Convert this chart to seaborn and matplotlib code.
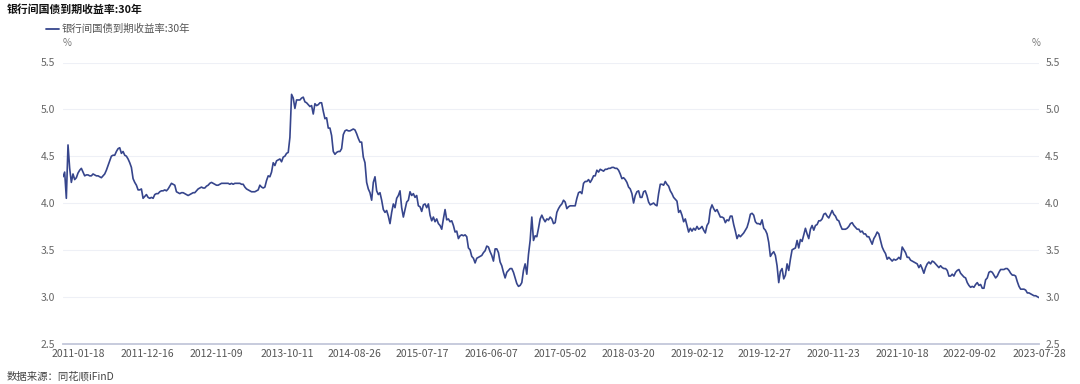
import numpy as np
import pandas as pd
import matplotlib
matplotlib.use("Agg")
import matplotlib.pyplot as plt
import matplotlib.dates as mdates
import seaborn as sns

title = "银行间国债到期收益率:30年"
series_name = "银行间国债到期收益率:30年"
source = "数据来源：同花顺iFinD"
unit = "%"

start_date = "2010-11-08"
end_date = "2023-07-28"

seg1 = [4.28, 4.33, 4.05, 4.62, 4.37, 4.22, 4.31, 4.25, 4.27, 4.32,
        4.35, 4.37, 4.33, 4.29, 4.30, 4.30, 4.29, 4.29, 4.31, 4.30,
        4.29, 4.29, 4.28, 4.27, 4.29, 4.31, 4.35, 4.40, 4.45, 4.50,
        4.51, 4.51, 4.55, 4.58, 4.59, 4.53, 4.55, 4.51, 4.50, 4.47,
        4.43, 4.38, 4.26, 4.22, 4.19, 4.14, 4.14, 4.15, 4.05, 4.07,
        4.09, 4.06, 4.05, 4.06, 4.05, 4.09, 4.10, 4.10, 4.12, 4.13,
        4.13, 4.14, 4.13, 4.15, 4.18, 4.21, 4.20, 4.19, 4.12, 4.11,
        4.10, 4.11, 4.11, 4.10, 4.09, 4.08, 4.09, 4.10, 4.11, 4.11,
        4.13, 4.15, 4.16, 4.17, 4.16, 4.16, 4.18, 4.19, 4.21, 4.22,
        4.21, 4.20, 4.19, 4.19, 4.20, 4.21, 4.21, 4.21]
seg2 = [4.21, 4.21, 4.20, 4.21, 4.20, 4.21, 4.21, 4.21, 4.21, 4.20,
        4.20, 4.17, 4.15, 4.14, 4.13, 4.12, 4.12, 4.12, 4.13, 4.14,
        4.19, 4.17, 4.16, 4.17, 4.24, 4.29, 4.28, 4.33, 4.43, 4.40,
        4.45, 4.46, 4.47, 4.44, 4.49, 4.50, 4.53, 4.54, 4.70, 5.16,
        5.12, 5.01, 5.10, 5.10, 5.10, 5.12, 5.13, 5.08, 5.07, 5.05,
        5.03, 5.04, 4.95, 5.06, 5.04, 5.05, 5.07, 5.07, 4.98, 4.90,
        4.91, 4.80, 4.80, 4.72, 4.55, 4.52, 4.54, 4.55, 4.55, 4.58,
        4.73, 4.77, 4.78, 4.77, 4.77, 4.78, 4.79, 4.78, 4.74, 4.69,
        4.65, 4.65, 4.49, 4.43, 4.22, 4.15, 4.11, 4.03, 4.22, 4.28,
        4.13, 4.09, 4.11, 4.03, 3.93, 3.90, 3.92, 3.86, 3.78]
seg3 = [3.90, 3.99, 3.95, 4.05, 4.08, 4.13, 3.95, 3.85, 3.93, 4.01,
        4.03, 4.12, 4.08, 4.10, 4.06, 4.08, 3.97, 3.96, 3.91, 3.98,
        3.99, 3.95, 3.99, 3.87, 3.81, 3.85, 3.80, 3.83, 3.78, 3.76,
        3.72, 3.83, 3.93, 3.82, 3.83, 3.80, 3.81, 3.76, 3.69, 3.70,
        3.62, 3.65, 3.66, 3.65, 3.66, 3.64, 3.52, 3.50, 3.43, 3.41,
        3.36, 3.41, 3.42, 3.43, 3.44, 3.47, 3.49, 3.54, 3.53, 3.48,
        3.44, 3.38, 3.51, 3.51, 3.47, 3.37, 3.33, 3.26, 3.20, 3.26,
        3.28, 3.30, 3.30, 3.26, 3.20, 3.14, 3.11, 3.12, 3.15, 3.28,
        3.35, 3.24, 3.45, 3.60, 3.85, 3.60, 3.65, 3.64, 3.73, 3.83,
        3.87, 3.83, 3.80, 3.83, 3.82, 3.85, 3.83, 3.78, 3.79]
seg4 = [3.90, 3.94, 3.97, 3.99, 4.03, 4.01, 3.94, 3.96, 3.97, 3.97,
        3.97, 3.97, 4.05, 4.11, 4.12, 4.10, 4.21, 4.23, 4.23, 4.25,
        4.22, 4.25, 4.29, 4.29, 4.35, 4.33, 4.36, 4.35, 4.34, 4.36,
        4.36, 4.37, 4.37, 4.38, 4.38, 4.37, 4.37, 4.35, 4.31, 4.26,
        4.27, 4.25, 4.22, 4.17, 4.15, 4.10, 4.00, 4.08, 4.12, 4.13,
        4.06, 4.06, 4.12, 4.13, 4.08, 4.01, 3.98, 3.99, 4.00, 3.98,
        3.97, 4.10, 4.20, 4.20, 4.19, 4.23, 4.20, 4.18, 4.13, 4.10,
        4.06, 4.04, 4.02, 3.90, 3.92, 3.87, 3.80, 3.83, 3.76, 3.69,
        3.73, 3.70, 3.73, 3.71, 3.75, 3.72, 3.73, 3.75, 3.71, 3.68,
        3.76, 3.79, 3.93, 3.98, 3.94, 3.91, 3.93, 3.89, 3.85]
seg5 = [3.85, 3.84, 3.79, 3.82, 3.81, 3.86, 3.86, 3.77, 3.70, 3.62,
        3.66, 3.64, 3.66, 3.68, 3.71, 3.74, 3.80, 3.88, 3.89, 3.87,
        3.80, 3.78, 3.78, 3.77, 3.82, 3.73, 3.71, 3.67, 3.58, 3.43,
        3.46, 3.48, 3.44, 3.33, 3.15, 3.27, 3.30, 3.19, 3.23, 3.35,
        3.28, 3.40, 3.50, 3.51, 3.52, 3.60, 3.52, 3.61, 3.59, 3.66,
        3.73, 3.67, 3.62, 3.72, 3.76, 3.71, 3.76, 3.77, 3.81, 3.81,
        3.83, 3.88, 3.89, 3.86, 3.84, 3.88, 3.92, 3.88, 3.86, 3.82,
        3.81, 3.76, 3.72, 3.72, 3.72, 3.73, 3.75, 3.78, 3.79, 3.76,
        3.74, 3.72, 3.72, 3.69, 3.70, 3.67, 3.67, 3.64, 3.64, 3.60,
        3.56, 3.62, 3.65, 3.69, 3.67, 3.60, 3.53, 3.49, 3.46]
seg6 = [3.40, 3.42, 3.40, 3.38, 3.40, 3.39, 3.40, 3.42, 3.40, 3.53,
        3.50, 3.47, 3.42, 3.42, 3.39, 3.38, 3.37, 3.36, 3.35, 3.31,
        3.34, 3.30, 3.25, 3.31, 3.35, 3.37, 3.35, 3.38, 3.37, 3.35,
        3.33, 3.31, 3.33, 3.31, 3.30, 3.30, 3.28, 3.22, 3.22, 3.24,
        3.22, 3.26, 3.28, 3.29, 3.25, 3.23, 3.21, 3.20, 3.15, 3.12,
        3.10, 3.11, 3.10, 3.13, 3.15, 3.12, 3.13, 3.09, 3.09, 3.18,
        3.20, 3.26, 3.27, 3.26, 3.23, 3.20, 3.22, 3.26, 3.29, 3.29,
        3.29, 3.30, 3.30, 3.28, 3.25, 3.23, 3.23, 3.22, 3.16, 3.11,
        3.08, 3.08, 3.08, 3.07, 3.04, 3.04, 3.03, 3.02, 3.01, 3.01,
        3.00, 2.99]

tick_labels = ["2011-01-18", "2011-12-16", "2012-11-09", "2013-10-11",
               "2014-08-26", "2015-07-17", "2016-06-07", "2017-05-02",
               "2018-03-20", "2019-02-12", "2019-12-27", "2020-11-23",
               "2021-10-18", "2022-09-02", "2023-07-28"]
y_ticks = [2.5, 3.0, 3.5, 4.0, 4.5, 5.0, 5.5]

values = seg1 + seg2 + seg3 + seg4 + seg5 + seg6
dates = pd.date_range(start_date, end_date, periods=len(values))
df = pd.DataFrame({"date": dates, "value": values})

sns.set_theme(style="white")
fam = ["Noto Sans CJK SC", "DejaVu Sans"]
plt.rcParams["font.family"] = fam
plt.rcParams["axes.unicode_minus"] = False

W, H = 1080, 384
fig = plt.figure(figsize=(W / 100, H / 100), dpi=100)
ax = fig.add_axes([63 / W, 1 - 343.5 / H, 976 / W, 281 / H])

line_color = "#36458c"
sns.lineplot(data=df, x="date", y="value", ax=ax, color=line_color,
             linewidth=1.2, legend=False)

ax.set_ylim(2.5, 5.5)
ax.set_xlim(dates[0], dates[-1])
ax.set_yticks(y_ticks)
ax.set_yticklabels([f"{v:.1f}" for v in y_ticks])
ax.yaxis.grid(True, color="#eef0f6", linewidth=0.8)
ax.xaxis.grid(False)
for s in ["top", "right", "left"]:
    ax.spines[s].set_visible(False)
ax.spines["bottom"].set_color("#c3c7da")
ax.spines["bottom"].set_linewidth(1.3)
ax.set_xlabel("")
ax.set_ylabel("")

tick_dates = pd.to_datetime(tick_labels)
ax.set_xticks(mdates.date2num(tick_dates))
ax.set_xticklabels(tick_labels)
ax.tick_params(axis="x", length=0, pad=4.2, labelsize=7.5, labelcolor="#555555")
ax.tick_params(axis="y", length=0, pad=5.5, labelsize=7.5, labelcolor="#666666")

ax2 = ax.twinx()
ax2.set_ylim(2.5, 5.5)
ax2.set_yticks(y_ticks)
ax2.set_yticklabels([f"{v:.1f}" for v in y_ticks])
ax2.tick_params(axis="y", length=0, pad=4.5, labelsize=7.5, labelcolor="#666666")
for s in ax2.spines.values():
    s.set_visible(False)
ax2.grid(False)

# title, legend, units, source
fig.text(7 / W, 1 - 10 / H, title, fontsize=7.8, fontweight="bold",
         color="#111111", va="center", ha="left", family=fam)
fig.lines.append(plt.Line2D([46 / W, 59 / W], [1 - 29 / H, 1 - 29 / H],
                            transform=fig.transFigure, color=line_color, linewidth=1.3))
fig.text(62 / W, 1 - 29 / H, series_name, fontsize=7.5, color="#555555",
         va="center", ha="left", family=fam)
fig.text(63 / W, 1 - 43 / H, unit, fontsize=7, color="#777777",
         va="center", ha="left", family=fam)
fig.text(1040 / W, 1 - 43 / H, unit, fontsize=7, color="#777777",
         va="center", ha="right", family=fam)
fig.text(7 / W, 1 - 377 / H, source, fontsize=7.5, color="#444444",
         va="center", ha="left", family=fam)

fig.savefig("out.png", dpi=100, facecolor="white")
